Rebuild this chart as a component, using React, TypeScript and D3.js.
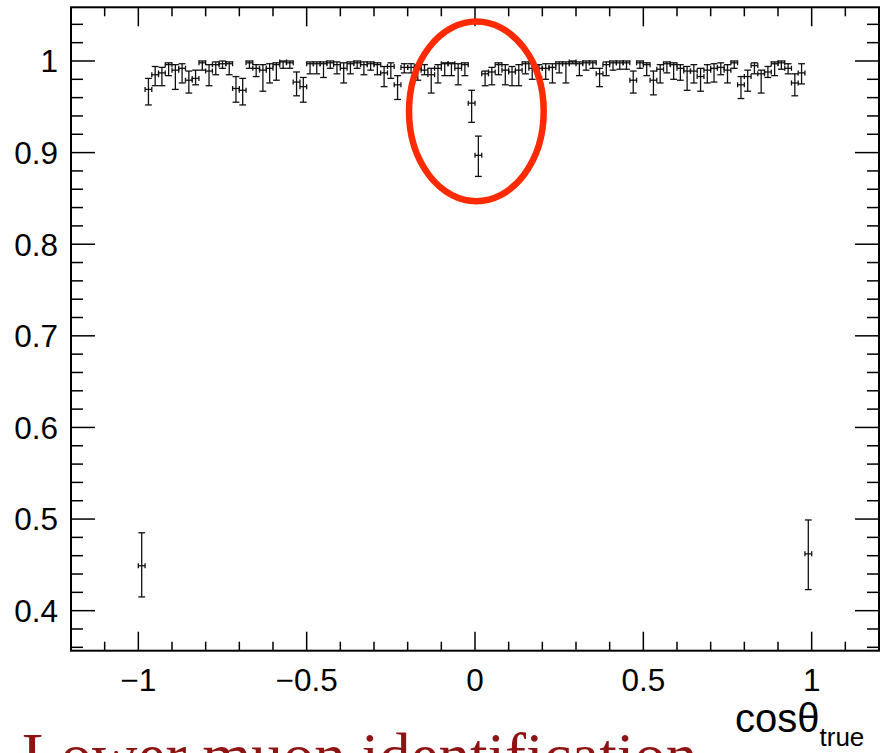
import React from 'react';
import * as d3 from 'd3';

const W = 890;
const H = 753;

// Histogram binning: 100 bins over [-1, 1]
const nBins = 100;
const histLow = -1;
const histHigh = 1;

const efficiency = [
  0.449, 0.969, 0.985, 0.987, 0.996, 0.990, 0.992, 0.979, 0.981, 0.998,
  0.989, 0.996, 0.997, 0.997, 0.970, 0.968, 0.998, 0.992, 0.990, 0.992,
  0.996, 0.999, 0.998, 0.977, 0.972, 0.997, 0.997, 0.997, 0.998, 0.996,
  0.992, 0.997, 0.998, 0.996, 0.997, 0.996, 0.987, 0.994, 0.974, 0.993,
  0.993, 0.992, 0.990, 0.985, 0.992, 0.997, 0.997, 0.992, 0.996, 0.954,
  0.897, 0.986, 0.988, 0.996, 0.990, 0.988, 0.990, 0.997, 0.992, 0.992,
  0.992, 0.993, 0.997, 0.997, 0.999, 0.997, 0.998, 0.998, 0.986, 0.996,
  0.998, 0.998, 0.998, 0.979, 0.998, 0.996, 0.979, 0.991, 0.997, 0.996,
  0.992, 0.989, 0.989, 0.983, 0.990, 0.992, 0.993, 0.990, 0.998, 0.974,
  0.983, 0.995, 0.986, 0.988, 0.997, 0.998, 0.992, 0.976, 0.987, 0.462,
];

const upperBound = [
  0.485, 0.981, 0.994, 0.993, 0.998, 0.996, 0.997, 0.989, 0.990, 1.000,
  0.996, 0.999, 1.000, 0.999, 0.983, 0.981, 1.000, 0.996, 0.996, 0.997,
  0.998, 1.000, 1.000, 0.988, 0.982, 0.999, 0.999, 0.999, 1.000, 0.999,
  0.998, 0.999, 1.000, 0.999, 0.999, 0.998, 0.994, 0.998, 0.984, 0.997,
  0.997, 0.996, 0.996, 0.992, 0.996, 0.998, 0.998, 0.997, 0.998, 0.968,
  0.918, 0.989, 0.993, 0.998, 0.996, 0.994, 0.996, 0.999, 0.997, 0.996,
  0.997, 0.997, 0.999, 0.999, 1.000, 0.999, 1.000, 1.000, 0.992, 0.999,
  1.000, 1.000, 1.000, 0.989, 1.000, 0.998, 0.989, 0.996, 0.999, 0.998,
  0.996, 0.994, 0.996, 0.992, 0.996, 0.997, 0.998, 0.996, 1.000, 0.983,
  0.990, 0.998, 0.990, 0.994, 0.999, 1.000, 0.997, 0.986, 0.997, 0.499,
];

const lowerBound = [
  0.415, 0.952, 0.973, 0.973, 0.984, 0.969, 0.976, 0.965, 0.974, 0.990,
  0.973, 0.985, 0.992, 0.985, 0.955, 0.952, 0.992, 0.983, 0.967, 0.976,
  0.979, 0.992, 0.992, 0.962, 0.955, 0.986, 0.986, 0.982, 0.992, 0.986,
  0.976, 0.986, 0.992, 0.985, 0.990, 0.985, 0.972, 0.981, 0.958, 0.987,
  0.987, 0.979, 0.985, 0.965, 0.976, 0.984, 0.984, 0.974, 0.984, 0.933,
  0.874, 0.973, 0.974, 0.985, 0.974, 0.973, 0.973, 0.986, 0.980, 0.983,
  0.980, 0.976, 0.987, 0.976, 0.997, 0.984, 0.990, 0.992, 0.972, 0.984,
  0.990, 0.991, 0.991, 0.965, 0.992, 0.984, 0.963, 0.976, 0.987, 0.980,
  0.979, 0.968, 0.976, 0.967, 0.976, 0.977, 0.985, 0.976, 0.992, 0.959,
  0.967, 0.986, 0.965, 0.982, 0.984, 0.991, 0.986, 0.962, 0.975, 0.423,
];

const xTickValues = [-1, -0.5, 0, 0.5, 1];
const xTickLabels = ['\u22121', '\u22120.5', '0', '0.5', '1'];
const yTickValues = [0.4, 0.5, 0.6, 0.7, 0.8, 0.9, 1.0];
const yTickLabels = ['0.4', '0.5', '0.6', '0.7', '0.8', '0.9', '1'];

const xAxisTitle = 'cos\u03b8';
const xAxisSub = 'true';
const caption = 'Lower muon identification';

const FONT = '"Liberation Sans", Arial, Helvetica, sans-serif';

export default function App() {
  const x0 = 71, x1 = 879, y0 = 7.3, y1 = 650.7;
  const x = d3.scaleLinear().domain([-1.2, 1.2]).range([x0, x1]);
  const y = d3.scaleLinear().domain([0.3563, 1.0586]).range([y1, y0]);

  const binW = (histHigh - histLow) / nBins;
  const points = efficiency.map((v, i) => ({
    c: histLow + binW * (i + 0.5),
    v,
    hi: upperBound[i],
    lo: lowerBound[i],
  }));

  const yMinor = d3.range(18, 53).map((k) => ({ v: k * 0.02, major: k % 5 === 0 }));
  const xMinor = d3.range(-11, 12).map((k) => ({ v: k / 10, major: k % 5 === 0 }));

  const halfW = x(binW / 2) - x(0);
  const cap = 3.4;

  return (
    <svg
      width={W}
      height={H}
      style={{ position: 'absolute', left: 0, top: 0, background: '#fff' }}
      xmlns="http://www.w3.org/2000/svg"
    >
      <rect x={0} y={0} width={W} height={H} fill="#fff" />

      {/* ticks */}
      <g stroke="#000" strokeWidth={1.5}>
        {yMinor.map((t, i) => {
          const len = t.major ? 24 : 12;
          const yy = y(t.v);
          return (
            <g key={'y' + i}>
              <line x1={x0} x2={x0 + len} y1={yy} y2={yy} />
              <line x1={x1} x2={x1 - len} y1={yy} y2={yy} />
            </g>
          );
        })}
        {xMinor.map((t, i) => {
          const len = t.major ? 19 : 9;
          const xx = x(t.v);
          return (
            <g key={'x' + i}>
              <line x1={xx} x2={xx} y1={y1} y2={y1 - len} />
              <line x1={xx} x2={xx} y1={y0} y2={y0 + len} />
            </g>
          );
        })}
      </g>

      {/* frame */}
      <rect x={x0} y={y0} width={x1 - x0} height={y1 - y0} fill="none" stroke="#000" strokeWidth={2} />

      {/* tick labels */}
      <g fontFamily={FONT} fontSize={31.5} fill="#000">
        {yTickValues.map((v, i) => (
          <text key={'yl' + i} x={58} y={y(v)} dy="0.36em" textAnchor="end">
            {yTickLabels[i]}
          </text>
        ))}
        {xTickValues.map((v, i) => (
          <text key={'xl' + i} x={x(v)} y={691} textAnchor="middle">
            {xTickLabels[i]}
          </text>
        ))}
      </g>

      {/* axis title */}
      <text x={735} y={732} fontFamily={FONT} fontSize={40} fill="#000">
        {xAxisTitle}
        <tspan fontSize={26} dy={14}>{xAxisSub}</tspan>
      </text>

      {/* data points with error bars */}
      <g stroke="#111" strokeWidth={1.3} fill="none">
        {points.map((p, i) => {
          const cx = x(p.c);
          const cy = y(p.v);
          const yh = y(p.hi);
          const yl = y(p.lo);
          return (
            <g key={'p' + i}>
              <line x1={cx} x2={cx} y1={yh} y2={yl} />
              <line x1={cx - cap} x2={cx + cap} y1={yh} y2={yh} />
              <line x1={cx - cap} x2={cx + cap} y1={yl} y2={yl} />
              <line x1={cx - halfW} x2={cx + halfW} y1={cy} y2={cy} />
              <line x1={cx - halfW} x2={cx - halfW} y1={cy - 2.5} y2={cy + 2.5} />
              <line x1={cx + halfW} x2={cx + halfW} y1={cy - 2.5} y2={cy + 2.5} />
            </g>
          );
        })}
      </g>

      {/* red ellipse annotation */}
      <ellipse
        cx={x(0.004)}
        cy={y(0.945)}
        rx={x(0.2) - x(0)}
        ry={y(0.945) - y(1.043)}
        fill="none"
        stroke="#ff2a00"
        strokeWidth={6.5}
      />

      {/* caption, clipped at bottom as in the reference */}
      <text x={22} y={777} fontFamily='"Liberation Serif", "Times New Roman", serif' fontSize={63} fill="#8e1414">
        {caption}
      </text>
    </svg>
  );
}
